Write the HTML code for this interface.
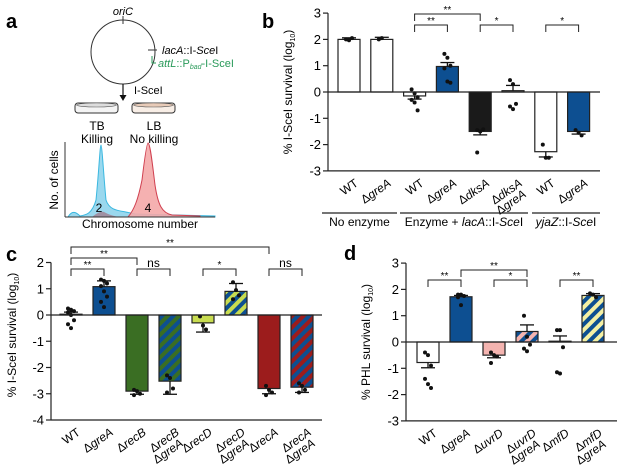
<!DOCTYPE html>
<html><head><meta charset="utf-8"><style>
body{margin:0;background:#fff}
svg{font-family:"Liberation Sans",sans-serif}
</style></head><body>
<svg id="fig" width="624" height="471" viewBox="0 0 624 471" xmlns="http://www.w3.org/2000/svg">
<defs>
<pattern id="pGB" width="8" height="8" patternUnits="userSpaceOnUse" patternTransform="rotate(45)"><rect width="8" height="8" fill="#3a6e23"/><rect width="4" height="8" fill="#0d4f91"/></pattern>
<pattern id="pLB" width="8" height="8" patternUnits="userSpaceOnUse" patternTransform="rotate(45)"><rect width="8" height="8" fill="#c8dc50"/><rect width="4" height="8" fill="#0d4f91"/></pattern>
<pattern id="pRB" width="8" height="8" patternUnits="userSpaceOnUse" patternTransform="rotate(45)"><rect width="8" height="8" fill="#9c1c1c"/><rect width="4" height="8" fill="#0d4f91"/></pattern>
<pattern id="pPB" width="8" height="8" patternUnits="userSpaceOnUse" patternTransform="rotate(45)"><rect width="8" height="8" fill="#f4b4b0"/><rect width="4" height="8" fill="#0d4f91"/></pattern>
<pattern id="pYB" width="8" height="8" patternUnits="userSpaceOnUse" patternTransform="rotate(45)"><rect width="8" height="8" fill="#f4f0a4"/><rect width="4" height="8" fill="#0d4f91"/></pattern>
</defs>

<g>
<text x="6" y="28" font-size="20" font-weight="bold">a</text>
<circle cx="123" cy="52" r="32" fill="none" stroke="#333" stroke-width="1"/>
<line x1="123" y1="16" x2="123" y2="24" stroke="#333"/>
<text x="123" y="15" font-size="11" font-style="italic" text-anchor="middle">oriC</text>
<line x1="148" y1="50" x2="157" y2="50" stroke="#333"/>
<text x="162" y="54" font-size="11"><tspan font-style="italic">lacA</tspan>::I-<tspan font-style="italic">Sce</tspan>I</text>
<path d="M152 56 v7 h4" fill="none" stroke="#2a9a5a"/>
<text x="158" y="67" font-size="11" fill="#2a9a5a"><tspan font-style="italic">attL</tspan>::P<tspan font-size="7" font-style="italic" dy="2">bad</tspan><tspan dy="-2">-I-SceI</tspan></text>
<line x1="123" y1="84" x2="123" y2="97" stroke="#111" stroke-width="1.2"/>
<path d="M119.5 95 L126.5 95 L123 101 Z" fill="#111"/>
<text x="134" y="94" font-size="11">I-SceI</text>
<g>
<rect x="75" y="103" width="43" height="10" rx="3" fill="#f4f4f4" stroke="#333"/>
<ellipse cx="96.5" cy="105" rx="20" ry="2" fill="#ddd" stroke="#555" stroke-width="0.6"/>
</g>
<g>
<rect x="132" y="103" width="43" height="10" rx="3" fill="#f8eee6" stroke="#333"/>
<ellipse cx="153.5" cy="105" rx="20" ry="2" fill="#e8cbb8" stroke="#555" stroke-width="0.6"/>
</g>
<text x="97" y="130" font-size="12" text-anchor="middle">TB</text>
<text x="97" y="143" font-size="12" text-anchor="middle">Killing</text>
<text x="154" y="130" font-size="12" text-anchor="middle">LB</text>
<text x="154" y="143" font-size="12" text-anchor="middle">No killing</text>
<path d="M68 217 C72 210,76 212,80 216 C86 215,92 214,96 200 C99 170,100 145,101 145 C102 145,104 180,106 200 C110 212,120 210,135 214 L215 216 L215 217 L68 217Z" fill="#9ad8ee" stroke="#3ab8e0" stroke-width="1"/>
<path d="M128 217 C134 210,138 200,142 180 C145 155,147 143,148 143 C150 143,152 160,155 185 C158 205,162 213,172 215 L200 216 L200 217 Z" fill="#f4a8a8" fill-opacity="0.9" stroke="#d04050" stroke-width="1"/>
<path d="M92 217 C96 214,100 211,104 212 C108 214,112 216,120 217 Z" fill="#a08090" opacity="0.8"/>
<line x1="65" y1="142" x2="65" y2="217" stroke="#333"/>
<line x1="65" y1="217" x2="215" y2="217" stroke="#333"/>
<text x="99" y="212" font-size="12" text-anchor="middle">2</text>
<text x="148" y="212" font-size="12" text-anchor="middle">4</text>
<text x="140" y="228" font-size="12" text-anchor="middle">Chromosome number</text>
<text transform="translate(58,180) rotate(-90)" font-size="12" text-anchor="middle">No. of cells</text>
</g>

<text x="262" y="28" font-size="20" font-weight="bold">b</text>
<text x="6" y="261" font-size="20" font-weight="bold">c</text>
<text x="344" y="260" font-size="20" font-weight="bold">d</text>
<g id="charts"></g>
</svg>
<script>
// ---- Panel b data ----
const bCats = [["WT"],["ΔgreA"],["WT"],["ΔgreA"],["ΔdksA"],["ΔdksA","ΔgreA"],["WT"],["ΔgreA"]];
const bVals = [2.0, 2.0, -0.15, 0.97, -1.5, 0.05, -2.27, -1.5];
const bErr = [0.06, 0.08, 0.12, 0.15, 0.13, 0.2, 0.2, 0.1];
const bPts = [[2.0,1.97,2.05],[2.0,2.05],[0.1,-0.05,-0.2,-0.3,-0.4,-0.7],[1.45,1.3,1.0,0.9,0.4,0.35],[-1.45,-1.5,-1.42,-2.3],[0.45,0.3,-0.45,-0.55,-0.65],[-2.0,-2.5,-2.5],[-1.45,-1.55,-1.65]];
const bFill = ["#fff","#fff","#fff","#0d4f91","#1a1a1a","#fff","#fff","#0d4f91"];
const bTicks = [3,2,1,0,-1,-2,-3];
const bSig = [[2,3,"**",1],[2,4,"**",0],[4,5,"*",1],[6,7,"*",1]];
// ---- Panel c data ----
const cCats = [["WT"],["ΔgreA"],["ΔrecB"],["ΔrecB","ΔgreA"],["ΔrecD"],["ΔrecD","ΔgreA"],["ΔrecA"],["ΔrecA","ΔgreA"]];
const cVals = [0.03, 1.08, -2.9, -2.52, -0.3, 0.9, -2.8, -2.75];
const cErr = [0.08, 0.22, 0.12, 0.5, 0.35, 0.3, 0.2, 0.2];
const cPts = [[0.25,0.2,0.15,0.1,0,-0.2,-0.35,-0.5],[1.35,1.3,1.2,1.1,0.9,0.7,0.5,0.3],[-2.85,-2.9,-3.0,-3.05],[-2.3,-2.4,-2.8,-2.95],[-0.05,-0.4,-0.55],[1.25,0.95,0.75,0.6],[-2.7,-2.85,-2.95,-3.05],[-2.6,-2.7,-2.85,-2.95]];
const cFill = ["#fff","#0d4f91","#3a6e23","url(#pGB)","#c8dc50","url(#pLB)","#9c1c1c","url(#pRB)"];
const cTicks = [2,1,0,-1,-2,-3,-4];
const cSig = [[0,1,"**",2],[0,2,"**",1],[2,3,"ns",2],[4,5,"*",2],[6,7,"ns",2],[0,6,"**",0]];
// ---- Panel d data ----
const dCats = [["WT"],["ΔgreA"],["ΔuvrD"],["ΔuvrD","ΔgreA"],["ΔmfD"],["ΔmfD","ΔgreA"]];
const dVals = [-0.78, 1.72, -0.5, 0.4, 0.03, 1.77];
const dErr = [0.2, 0.05, 0.1, 0.25, 0.2, 0.07];
const dPts = [[-0.4,-0.5,-0.9,-1.4,-1.6,-1.75],[1.8,1.8,1.75,1.7,1.4],[-0.4,-0.5,-0.55,-0.8],[1.0,0.2,-0.1,-0.25,-0.35],[0.45,0.45,-0.2,-1.15,-1.2],[1.85,1.8,1.7]];
const dFill = ["#fff","#0d4f91","#f4b4b0","url(#pPB)","#fff","url(#pYB)"];
const dTicks = [3,2,1,0,-1,-2,-3];
const dSig = [[0,1,"**",1],[1,3,"**",0],[2,3,"*",1],[4,5,"**",1]];

const NS="http://www.w3.org/2000/svg";
const root=document.getElementById('charts');
function mk(tag,attrs,parent){const e=document.createElementNS(NS,tag);for(const k in attrs)e.setAttribute(k,attrs[k]);(parent||root).appendChild(e);return e;}

function panel(cfg){
  const g=mk('g',{});
  
  
  const y=v=>cfg.y0-v*cfg.unit;
  const x=i=>cfg.x0+i*cfg.step;
  const yMin=cfg.ticks[cfg.ticks.length-1], yMax=cfg.ticks[0];
  const ax=mk('line',{x1:cfg.ax,y1:y(yMax),x2:cfg.ax,y2:y(yMin),stroke:'#222','stroke-width':1.2},g);
  
  
  cfg.ticks.forEach(t=>{
    mk('line',{x1:cfg.ax-5,y1:y(t),x2:cfg.ax,y2:y(t),stroke:'#222','stroke-width':1.2},g);
    const tl=mk('text',{x:cfg.ax-7,y:y(t)+4.5,'font-size':13,'text-anchor':'end'},g);
    tl.textContent=t;
    
    
  });
  const bl=mk('line',{x1:cfg.ax,y1:y(yMin),x2:cfg.xEnd,y2:y(yMin),stroke:'#222','stroke-width':1.2},g);
  
  
  const bw=22;
  const labY=y(yMin)+cfg.labOff;
  cfg.vals.forEach((v,i)=>{
    const cx=x(i);
    const r=mk('rect',{x:cx-bw/2,y:Math.min(y(v),y(0)),width:bw,height:Math.abs(y(v)-y(0)),fill:cfg.fill[i],stroke:'#222','stroke-width':1.2},g);
    
    
    const s=v>=0?1:-1;
    const ye=y(v+s*cfg.err[i]);
    mk('line',{x1:cx,y1:y(v),x2:cx,y2:ye,stroke:'#111','stroke-width':1.3},g);
    mk('line',{x1:cx-7,y1:ye,x2:cx+7,y2:ye,stroke:'#111','stroke-width':1.3},g);
    cfg.pts[i].forEach((p,j)=>{
      const d=mk('circle',{cx:cx+((j%3)-1)*3,cy:y(p),r:2,fill:'#111'},g);
      
      
    });
    const lab=cfg.cats[i];
    lab.forEach((ln,k)=>{
      const t=mk('text',{transform:`translate(${cx+10+k*4},${labY+k*11}) rotate(-35)`,'font-size':12,'text-anchor':'end'},g);
      if(ln.startsWith('Δ')){t.appendChild(document.createTextNode('Δ'));const ts=mk('tspan',{'font-style':'italic'},t);ts.textContent=ln.slice(1);}
      else t.textContent=ln;
      
      
    });
  });
  const zl=mk('line',{x1:cfg.ax,y1:y(0),x2:cfg.xEnd,y2:y(0),stroke:'#222','stroke-width':1.2},g);
  
  
  cfg.sig.forEach(s=>{
    const yy=cfg.sigY[s[3]];
    const x1=x(s[0]),x2=x(s[1]);
    const p=mk('path',{d:`M${x1} ${yy+7} V${yy} H${x2} V${yy+7}`,fill:'none',stroke:'#222','stroke-width':1},g);
    
    
    const t=mk('text',{x:(x1+x2)/2,y:s[2]==='ns'?yy-2:yy-1,'font-size':s[2]==='ns'?12:10,'text-anchor':'middle'},g);
    t.textContent=s[2];
    
    
  });
  const yt=mk('text',{transform:`translate(${cfg.titleX},${cfg.titleY}) rotate(-90)`,'font-size':12,'text-anchor':'middle'},g);
  yt.innerHTML=cfg.title;
  
  
  return g;
}

panel({name:'panel-b-chart',cats:bCats,vals:bVals,err:bErr,pts:bPts,fill:bFill,ticks:bTicks,sig:bSig,
  y0:92,unit:26.3,ax:328,x0:349,step:32.8,xEnd:600,labOff:14,sigY:[14,25],titleX:292,titleY:92,
  title:'% I-SceI survival (log<tspan font-size="7" dy="3">10</tspan><tspan dy="-3">)</tspan>'});
panel({name:'panel-c-chart',cats:cCats,vals:cVals,err:cErr,pts:cPts,fill:cFill,ticks:cTicks,sig:cSig,
  y0:315,unit:26.25,ax:51,x0:71,step:33,xEnd:322,labOff:14,sigY:[247,258,269],titleX:16,titleY:335,
  title:'% I-SceI survival (log<tspan font-size="7" dy="3">10</tspan><tspan dy="-3">)</tspan>'});
panel({name:'panel-d-chart',cats:dCats,vals:dVals,err:dErr,pts:dPts,fill:dFill,ticks:dTicks,sig:dSig,
  y0:342,unit:26.3,ax:406,x0:428,step:33,xEnd:617,labOff:14,sigY:[270,280],titleX:370,titleY:342,
  title:'% PHL survival (log<tspan font-size="7" dy="3">10</tspan><tspan dy="-3">)</tspan>'});

const groups=[["No enzyme",322,397],["Enzyme + <tspan font-style='italic'>lacA</tspan>::I-<tspan font-style='italic'>Sce</tspan>I",400,528],["<tspan font-style='italic'>yjaZ</tspan>::I-<tspan font-style='italic'>Sce</tspan>I",532,600]];
groups.forEach(gp=>{
  const l=mk('line',{x1:gp[1],y1:213,x2:gp[2],y2:213,stroke:'#222','stroke-width':1.2});
  
  
  const t=mk('text',{x:(gp[1]+gp[2])/2,y:226,'font-size':12,'text-anchor':'middle'});
  t.innerHTML=gp[0];
  
  
});
</script>
</body></html>
